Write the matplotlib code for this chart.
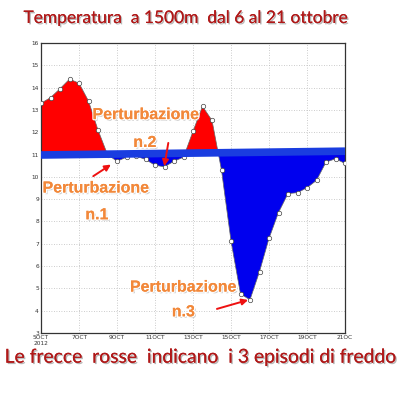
import matplotlib.pyplot as plt
import matplotlib.patheffects as pe
import numpy as np

# 12-hourly temperature at 1500 m, from 5 OCT 00z to 21 OCT 00z (day offsets)
days = [i * 0.5 for i in range(33)]
temps = [13.3, 13.55, 13.95, 14.38, 14.2, 13.4, 12.1, 11.0,
         10.7, 10.88, 10.93, 10.78, 10.52, 10.45, 10.7, 10.88,
         12.04, 13.16, 12.53, 10.3, 7.13, 4.75, 4.49, 5.75,
         7.24, 8.4, 9.25, 9.29, 9.51, 9.84, 10.66, 10.81, 10.6]
baseline = [10.98, 11.15]

tick_days = [0, 2, 4, 6, 8, 10, 12, 14, 16]
tick_labels = ['5OCT\n2012', '7OCT', '9OCT', '11OCT', '13OCT',
               '15OCT', '17OCT', '19OCT', '21OC']

title = 'Temperatura  a 1500m  dal 6 al 21 ottobre'
caption = 'Le frecce  rosse  indicano  i 3 episodi di freddo'

fig = plt.figure(figsize=(4, 4), dpi=100)
ax = fig.add_axes([0.1025, 0.1675, 0.76, 0.725])

x = np.array(days)
y = np.array(temps)
# fine resampling so the fill follows the straight segments
xf = np.linspace(x[0], x[-1], 3000)
yf = np.interp(xf, x, y)
base = np.interp(xf, [x[0], x[-1]], baseline)
ax.fill_between(xf, yf, base, where=yf >= base, color='#ff0000', lw=0, interpolate=True, zorder=2)
ax.fill_between(xf, yf, base, where=yf < base, color='#0000ee', lw=0, interpolate=True, zorder=2)
ax.plot(x, y, color='#666666', lw=0.5, marker='o', ms=3.2, mfc='white', mec='#444444', mew=0.5, zorder=3)
ax.plot([x[0], x[-1]], baseline, color='#1a3de0', lw=5.5, solid_capstyle='butt', zorder=4)

ax.set_xlim(0, 16)
ax.set_ylim(3, 16)
ax.set_xticks(tick_days, labels=tick_labels)
ax.set_yticks(range(3, 17))
ax.tick_params(labelsize=4.2, length=0, pad=1.5, colors='#333333')
ax.grid(True, ls=(0, (1, 2)), color='#bbbbbb', lw=0.6)
for s in ax.spines.values():
    s.set_linestyle((0, (2, 1)))
    s.set_linewidth(0.9)
    s.set_color('#333333')

shadow = [pe.withSimplePatchShadow(offset=(1, -1), shadow_rgbFace='#888888', alpha=0.6), pe.Normal()]
fig.text(0.465, 0.955, title, ha='center', va='center', fontsize=12.5,
         family='Lato', color='#b01818', path_effects=shadow)
fig.text(0.5, 0.107, caption, ha='center', va='center', fontsize=13.9,
         family='Lato', color='#b01818', path_effects=shadow)

glow = [pe.withSimplePatchShadow(offset=(1.2, -1.2), shadow_rgbFace='#999999', alpha=0.5),
        pe.withStroke(linewidth=1.8, foreground='white'), pe.Normal()]
labels = [('Perturbazione', 5.53, 12.79), ('n.2', 5.47, 11.54),
          ('Perturbazione', 2.9, 9.5), ('n.1', 2.95, 8.3),
          ('Perturbazione', 7.5, 5.06), ('n.3', 7.5, 3.95)]
for txt, xt, yt in labels:
    ax.text(xt, yt, txt, ha='center', va='center', fontsize=11.5, weight='bold',
            family='Liberation Sans', color='#f2883a', path_effects=glow, zorder=6)

# (tip, tail) of the red arrows
arrows = [((6.49, 10.48), (6.7, 11.52)), ((3.68, 10.55), (2.75, 10.03)), ((10.9, 4.48), (9.26, 4.08))]
for tip, tail in arrows:
    ax.annotate('', xy=tip, xytext=tail,
                arrowprops=dict(arrowstyle='-|>', color='#ee1111', lw=1.4, mutation_scale=9,
                                shrinkA=0, shrinkB=0), zorder=7)

fig.savefig('out.png', dpi=100)
